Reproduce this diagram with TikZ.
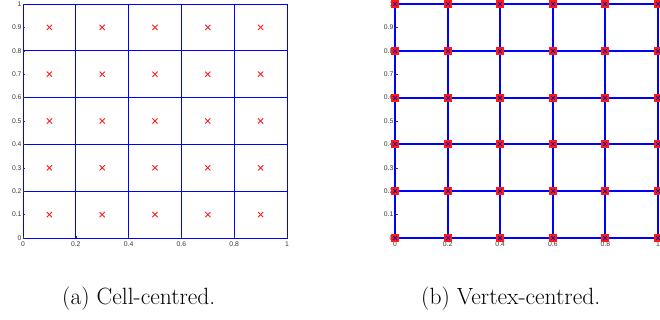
\documentclass[tikz,border=0pt]{standalone}
\usepackage{fontspec}
\usetikzlibrary{calc}
\newfontfamily\tickfont{Liberation Sans}
\definecolor{gridblue}{RGB}{0,0,255}
\definecolor{mkred}{RGB}{255,25,25}
\definecolor{ticktext}{RGB}{55,55,55}
\tikzset{
  thingrid/.style={draw=gridblue, line width=1pt},
  thickgrid/.style={draw=gridblue, line width=2pt},
  ticklab/.style={font=\tickfont\fontsize{6.8}{7}\selectfont, text=ticktext, inner sep=0pt},
  tickmark/.style={draw=ticktext, line width=0.5pt},
  redx/.style={draw=mkred, line width=0.9pt},
  redsq/.style={fill=mkred, draw=none},
  bluex/.style={draw=gridblue!70!black, line width=0.7pt},
  caption/.style={font=\fontsize{23.5}{28}\selectfont, inner sep=0pt}
}
\begin{document}
\begin{tikzpicture}[x=1pt,y=-1pt]
\useasboundingbox (0,0) rectangle (660,320);
% ---------- left plot: cell-centred ----------
\def\LX{23}\def\LW{264}\def\BY{238}\def\PH{234}
\foreach \i in {0,...,5}{
  \pgfmathsetmacro{\gx}{floor(\LX+\LW*\i/5)+0.5}
  \pgfmathsetmacro{\gy}{floor(\BY-\PH*\i/5)+0.5}
  \draw[thingrid] (\gx,{\BY+0.5}) -- (\gx,{\BY-\PH+0.5});
  \draw[thingrid] ({\LX+0.5},\gy) -- ({\LX+\LW+0.5},\gy);
}
\foreach \i in {0,...,4}{
  \foreach \j in {0,...,4}{
    \coordinate (c\i\j) at ({\LX+\LW*(2*\i+1)/10},{\BY-\PH*(2*\j+1)/10});
    \draw[redx] ($(c\i\j)+(-2.6,-2.6)$) -- ($(c\i\j)+(2.6,2.6)$);
    \draw[redx] ($(c\i\j)+(-2.6,2.6)$) -- ($(c\i\j)+(2.6,-2.6)$);
  }
}
\foreach \v/\t in {0/0,1/0.1,2/0.2,3/0.3,4/0.4,5/0.5,6/0.6,7/0.7,8/0.8,9/0.9,10/1}{
  \draw[tickmark] ({\LX},{\BY-\PH*\v/10}) -- ({\LX+2},{\BY-\PH*\v/10});
  \node[ticklab, anchor=east] (ly\v) at ({\LX-1.3},{\BY-\PH*\v/10}) {\t};
}
\foreach \v/\t in {0/0,1/0.2,2/0.4,3/0.6,4/0.8,5/1}{
  \draw[tickmark] ({\LX+\LW*\v/5},{\BY}) -- ({\LX+\LW*\v/5},{\BY-2});
  \node[ticklab, anchor=north] (lx\v) at ({\LX+\LW*\v/5},{\BY+3.6}) {\t};
}
% ---------- right plot: vertex-centred ----------
\def\RX{395}\def\RW{263}
\foreach \i in {0,...,5}{
  \pgfmathsetmacro{\hx}{round(\RX+\RW*\i/5)}
  \pgfmathsetmacro{\hy}{round(\BY-\PH*\i/5)}
  \draw[thickgrid] (\hx,{\BY}) -- (\hx,{\BY-\PH});
  \draw[thickgrid] ({\RX},\hy) -- ({\RX+\RW},\hy);
}
\foreach \v/\t in {0/0,1/0.1,2/0.2,3/0.3,4/0.4,5/0.5,6/0.6,7/0.7,8/0.8,9/0.9,10/1}{
  \draw[tickmark] ({\RX},{\BY-\PH*\v/10}) -- ({\RX+2.5},{\BY-\PH*\v/10});
  \node[ticklab, anchor=east] (ry\v) at ({\RX-1.5},{\BY-\PH*\v/10}) {\t};
}
\foreach \v/\t in {0/0,1/0.2,2/0.4,3/0.6,4/0.8,5/1}{
  \node[ticklab, anchor=north] (rx\v) at ({\RX+\RW*\v/5},{\BY+3.6}) {\t};
}
\foreach \i in {0,...,5}{
  \foreach \j in {0,...,5}{
    \coordinate (v\i\j) at ({round(\RX+\RW*\i/5)},{round(\BY-\PH*\j/5)});
    \fill[redsq] ($(v\i\j)+(-4,-4)$) rectangle ($(v\i\j)+(4,4)$);
    \draw[bluex] ($(v\i\j)+(-1.8,-1.8)$) -- ($(v\i\j)+(1.8,1.8)$);
    \draw[bluex] ($(v\i\j)+(-1.8,1.8)$) -- ($(v\i\j)+(1.8,-1.8)$);
  }
}
% ---------- captions ----------
\node[caption, anchor=base west] (capa) at (62,304) {(a) Cell-centred.};
\node[caption, anchor=base west] (capb) at (421,304) {(b) Vertex-centred.};
\end{tikzpicture}
\end{document}
